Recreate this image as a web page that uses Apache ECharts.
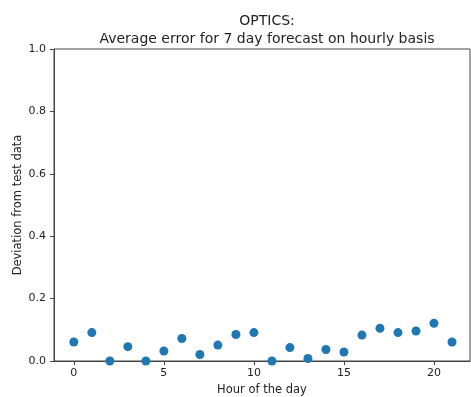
<!DOCTYPE html>
<html><head><meta charset="utf-8">
<script src="https://cdn.jsdelivr.net/npm/echarts@6/dist/echarts.min.js"></script>
<style>html,body{margin:0;padding:0;background:#fff}#c{width:471px;height:397px}</style>
</head><body><div id="c"></div>
<script>
const hours = [0,1,2,3,4,5,6,7,8,9,10,11,12,13,14,15,16,17,18,19,20,21];
const deviation = [0.061,0.091,0.0,0.046,0.0,0.032,0.072,0.021,0.051,0.085,0.091,0.0,0.043,0.008,0.037,0.029,0.083,0.105,0.091,0.096,0.121,0.061];
const xTicks = [0,5,10,15,20];
const yTicks = [0,0.2,0.4,0.6,0.8,1.0];
const titleLines = ['OPTICS:', 'Average error for 7 day forecast on hourly basis'];
const xLabel = 'Hour of the day';
const yLabel = 'Deviation from test data';

const font = 'DejaVu Sans';
const chart = echarts.init(document.getElementById('c'));
chart.setOption({
  animation: false,
  title: {
    text: titleLines.join('\n'),
    left: 262, top: 7, textAlign: 'center',
    textStyle: {fontFamily: font, fontSize: 14, fontWeight: 'normal', color: '#222', lineHeight: 18}
  },
  grid: {left: 54, right: 1, top: 49, bottom: 36, show: true, borderColor: '#444', borderWidth: 1, containLabel: false, outerBoundsMode: 'none'},
  xAxis: {
    type: 'value', min: -1.1, max: 22.0,
    name: xLabel, nameLocation: 'middle', nameGap: 23, nameMoveOverlap: false,
    nameTextStyle: {fontFamily: font, fontSize: 11.5, color: '#222'},
    axisLine: {show: true, onZero: false, lineStyle: {color: '#444'}},
    axisTick: {show: true, inside: false, length: 4, lineStyle: {color: '#444'}, customValues: xTicks},
    axisLabel: {fontFamily: font, fontSize: 11, color: '#222', margin: 7, customValues: xTicks},
    splitLine: {show: false}
  },
  yAxis: {
    type: 'value', min: 0, max: 1, interval: 0.2,
    name: yLabel, nameLocation: 'middle', nameGap: 30, nameMoveOverlap: false,
    nameTextStyle: {fontFamily: font, fontSize: 11.5, color: '#222'},
    axisLine: {show: true, onZero: false, lineStyle: {color: '#444'}},
    axisTick: {show: true, inside: false, length: 4, lineStyle: {color: '#444'}},
    axisLabel: {fontFamily: font, fontSize: 11, color: '#222', margin: 8, formatter: v => v.toFixed(1)},
    splitLine: {show: false}
  },
  series: [{
    type: 'scatter',
    data: hours.map((h, i) => [h, deviation[i]]),
    symbolSize: 9,
    itemStyle: {color: '#1f77b4', opacity: 1},
    clip: false
  }]
});
</script></body></html>
